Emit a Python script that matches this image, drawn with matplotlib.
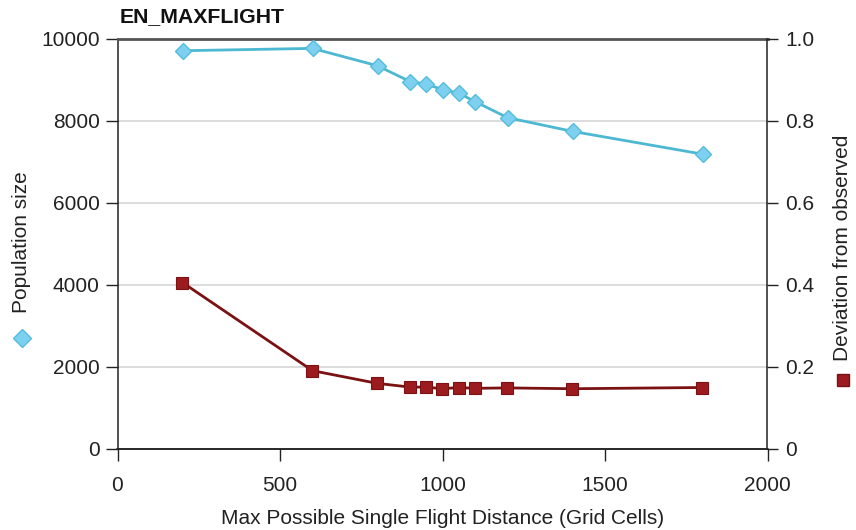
import matplotlib
matplotlib.use("Agg")
import matplotlib.pyplot as plt
from matplotlib.lines import Line2D

plt.rcParams['font.family'] = ['Liberation Sans', 'DejaVu Sans']

distance = [200, 600, 800, 900, 950, 1000, 1050, 1100, 1200, 1400, 1800]
population = [9714, 9771, 9347, 8963, 8898, 8767, 8678, 8473, 8082, 7747, 7192]
deviation = [0.406, 0.191, 0.160, 0.151, 0.151, 0.147, 0.150, 0.148, 0.149, 0.147, 0.150]

x_ticks = [0, 500, 1000, 1500, 2000]
y_left_ticks = [0, 2000, 4000, 6000, 8000, 10000]
y_right_ticks = [0, 0.2, 0.4, 0.6, 0.8, 1.0]
y_right_labels = ['0', '0.2', '0.4', '0.6', '0.8', '1.0']

blue_line = '#4cb8d2'
blue_fill = '#7dd0f0'
blue_edge = '#55bddc'
red_line = '#7a1214'
red_fill = '#9c1b1f'
red_edge = '#7a1214'

fig = plt.figure(figsize=(8.56, 5.30), dpi=100)
ax = fig.add_axes([117.5/856, 1-449/530, 650/856, 410/530])
ax2 = ax.twinx()

ax.set_xlim(0, 2000)
ax.set_ylim(0, 10000)
ax2.set_ylim(0, 1.0)

for yv in y_left_ticks[1:-1]:
    ax.axhline(yv, color='#d6d6d6', lw=1.2, zorder=0)
ax.axhline(10000, color='#555555', lw=2.0, zorder=3, clip_on=False)

ax.plot(distance, population, color=blue_line, lw=2, marker='D', ms=8,
        mfc=blue_fill, mec=blue_edge, mew=1, zorder=4)
ax2.plot(distance, deviation, color=red_line, lw=2, marker='s', ms=8,
         mfc=red_fill, mec=red_edge, mew=0.8, zorder=4)

ax.set_xticks(x_ticks)
ax.set_yticks(y_left_ticks)
ax2.set_yticks(y_right_ticks)
ax2.set_yticklabels(y_right_labels)

fs = 15
tc = '#222222'
ax.tick_params(axis='x', direction='out', length=8.4, width=1, labelsize=fs, pad=11, colors=tc)
ax.tick_params(axis='y', direction='out', length=8.6, width=1, labelsize=fs, pad=4.3, colors=tc)
ax2.tick_params(axis='y', direction='out', length=8, width=1, labelsize=fs, pad=5, colors=tc)

for a in (ax, ax2):
    a.spines['top'].set_visible(False)
    for s in ('left', 'right', 'bottom'):
        a.spines[s].set_color(tc)
        a.spines[s].set_linewidth(1.1)
ax2.spines['left'].set_visible(False)
ax.spines['right'].set_visible(False)

ax.set_xlabel('Max Possible Single Flight Distance (Grid Cells)', fontsize=fs,
              color=tc, labelpad=10)

fig.text(120/856, 1-17/530, 'EN_MAXFLIGHT', fontsize=15.3, fontweight='bold',
         ha='left', va='center', color='#111111')

fig.text(22/856, 1-242/530, 'Population size', rotation=90, fontsize=fs,
         ha='center', va='center', color=tc)
fig.add_artist(Line2D([22/856], [1-338/530], marker='D', ms=9, mfc=blue_fill,
                      mec=blue_edge, lw=0, transform=fig.transFigure))

fig.text(842/856, 1-247.5/530, 'Deviation from observed', rotation=90, fontsize=fs,
         ha='center', va='center', color=tc)
fig.add_artist(Line2D([843/856], [1-380/530], marker='s', ms=9, mfc=red_fill,
                      mec=red_edge, lw=0, transform=fig.transFigure))

fig.savefig('out.png', dpi=100)
